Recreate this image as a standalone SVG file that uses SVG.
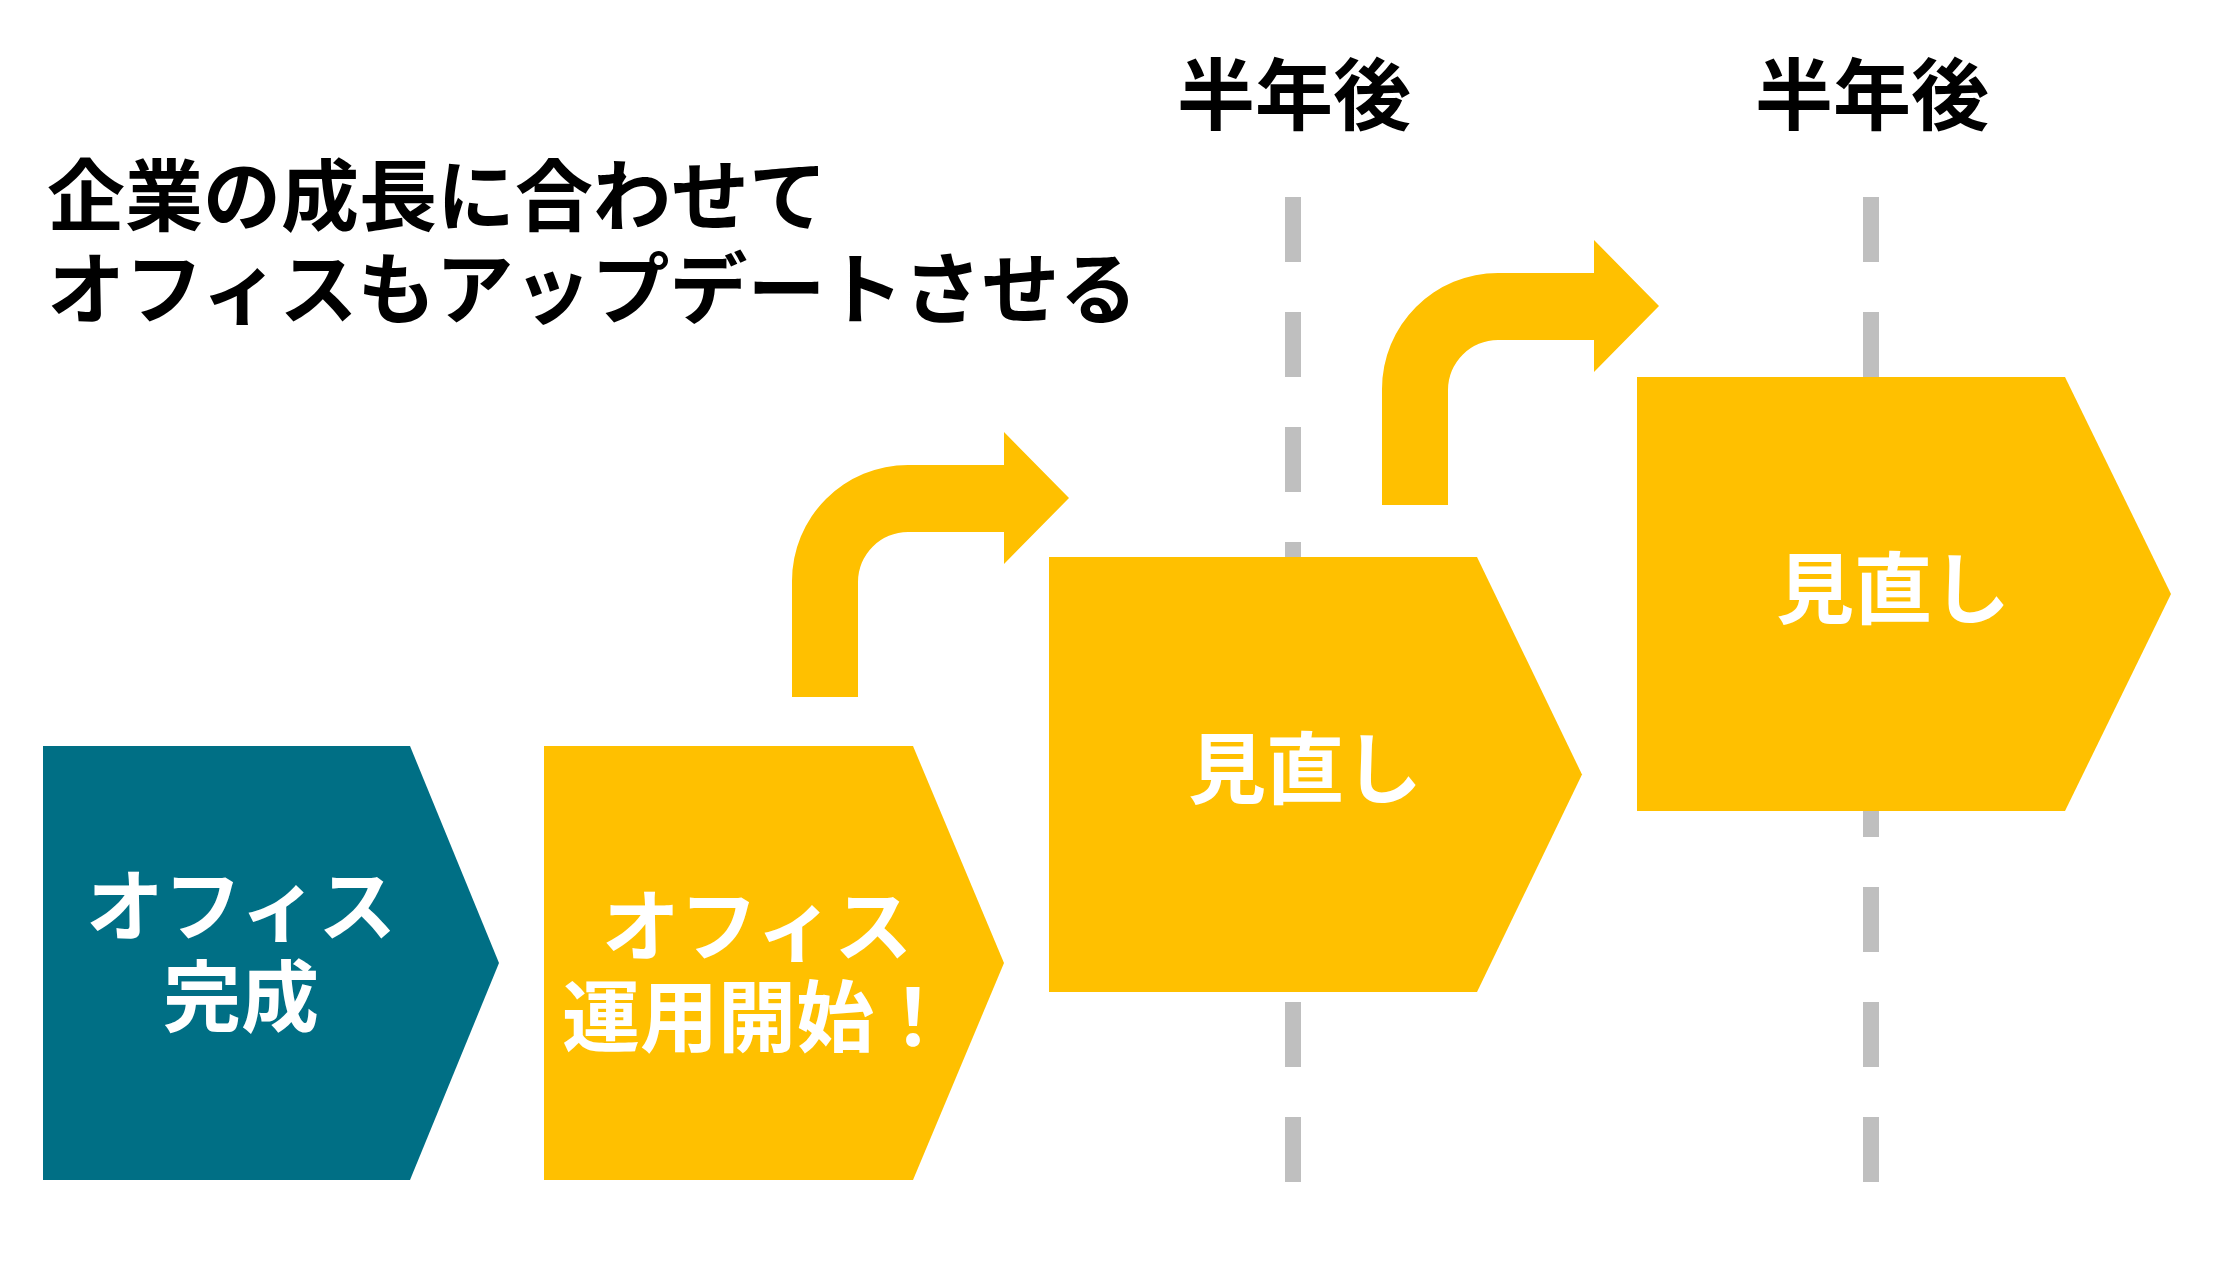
<svg xmlns="http://www.w3.org/2000/svg" width="2232" height="1262" viewBox="0 0 2232 1262">
<defs>
<style>
.t{font-family:"Noto Sans CJK JP","Noto Sans",sans-serif;font-weight:bold;font-size:78px;}
.dk{fill:#000000;}
.wh{fill:#FFFFFF;text-anchor:middle;}
.hd{fill:#000000;text-anchor:middle;}
.dash{stroke:#BFBFBF;stroke-width:16;stroke-dasharray:65 50;fill:none;}
.teal{fill:#006F85;}
.gold{fill:#FFC000;}
</style>
<path id="bent" d="M792 697 L792 581 A116 116 0 0 1 908 465 L1004 465 L1004 432 L1069 498 L1004 564 L1004 532 L908 532 A50 50 0 0 0 858 582 L858 697 Z"/>
</defs>
<rect width="2232" height="1262" fill="#FFFFFF"/>
<g id="title">
<text class="t dk" x="47" y="225">企業の成長に合わせて</text>
<text class="t dk" x="47" y="318">オフィスもアップデートさせる</text>
</g>
<g id="timeline">
<line class="dash" x1="1293" y1="197" x2="1293" y2="1184"/>
<line class="dash" x1="1871" y1="197" x2="1871" y2="1184"/>
<text class="t hd" x="1294" y="124">半年後</text>
<text class="t hd" x="1872" y="124">半年後</text>
</g>
<g id="connectors">
<use href="#bent" class="gold"/>
<use href="#bent" class="gold" transform="translate(590,-192)"/>
</g>
<g id="node-complete">
<polygon class="teal" points="43,746 410,746 499,963 410,1180 43,1180"/>
<text class="t wh" x="241" y="935">オフィス</text>
<text class="t wh" x="241" y="1026">完成</text>
</g>
<g id="node-start">
<polygon class="gold" points="544,746 913,746 1004,963 913,1180 544,1180"/>
<text class="t wh" x="757" y="955">オフィス</text>
<text class="t wh" x="757" y="1046">運用開始！</text>
</g>
<g id="node-review1">
<polygon class="gold" points="1049,557 1477,557 1582,774.5 1477,992 1049,992"/>
<text class="t wh" x="1305" y="798">見直し</text>
</g>
<g id="node-review2">
<polygon class="gold" points="1637,377 2065,377 2171,594 2065,811 1637,811"/>
<text class="t wh" x="1893" y="618">見直し</text>
</g>
</svg>
